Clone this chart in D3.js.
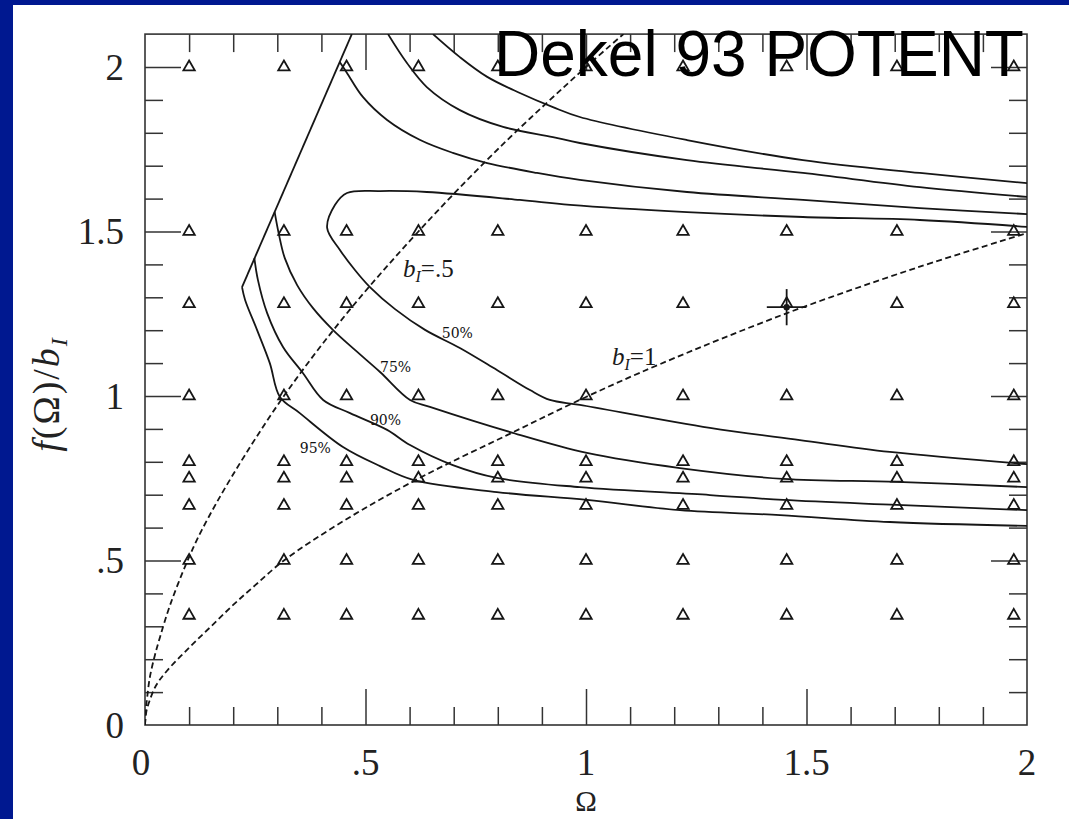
<!DOCTYPE html>
<html>
<head>
<meta charset="utf-8">
<script src="https://cdn.jsdelivr.net/npm/d3@7"></script>
<style>
  html, body { margin: 0; padding: 0; background: #ffffff; }
  svg { display: block; }
</style>
</head>
<body>
<script>
// Sampled models: Omega values and f(Omega)/b_I values of the grid
const omegaGrid = [0.1, 0.315, 0.457, 0.62, 0.8, 1.0, 1.22, 1.455, 1.705, 1.97];
const fbGrid = [2.0, 1.5, 1.28, 1.0, 0.8, 0.75, 0.667, 0.5, 0.333];

// Straight left boundary shared by the 75%, 90% and 95% contours, [Omega, f/b_I]
const envelope = [[0.469, 2.10], [0.220, 1.331]];

// Likelihood contours, [Omega, f/b_I]
const contour50 = [
  [2.0, 1.514], [1.757, 1.535], [1.492, 1.544], [1.229, 1.559], [0.964, 1.581],
  [0.850, 1.596], [0.639, 1.620], [0.533, 1.623], [0.458, 1.617], [0.431, 1.581],
  [0.413, 1.511], [0.442, 1.444], [0.476, 1.383], [0.510, 1.331], [0.567, 1.264],
  [0.635, 1.201], [0.714, 1.146], [0.798, 1.079], [0.873, 1.018], [0.918, 0.988],
  [0.986, 0.973], [1.281, 0.903], [1.485, 0.866], [1.689, 0.830], [2.0, 0.793]
];
const contour75Upper = [
  [2.0, 1.553], [1.757, 1.571], [1.492, 1.596], [1.229, 1.620], [0.986, 1.657],
  [0.889, 1.678], [0.776, 1.708], [0.698, 1.739], [0.624, 1.778], [0.549, 1.839],
  [0.494, 1.909], [0.458, 1.982], [0.4415, 2.015]
];
const contour75Lower = [
  [0.294, 1.559], [0.304, 1.489], [0.317, 1.419], [0.345, 1.337], [0.381, 1.267],
  [0.426, 1.201], [0.476, 1.140], [0.533, 1.073], [0.601, 0.988], [0.646, 0.967],
  [0.834, 0.888], [1.002, 0.827], [1.213, 0.781], [1.447, 0.748], [1.705, 0.739],
  [2.0, 0.723]
];
const contour90Upper = [
  [0.551, 2.10], [0.594, 2.012], [0.639, 1.939], [0.714, 1.869], [0.812, 1.818],
  [0.925, 1.787], [0.986, 1.769], [1.229, 1.717], [1.492, 1.678], [1.757, 1.635],
  [2.0, 1.605]
];
const contour90Lower = [
  [0.248, 1.419], [0.256, 1.353], [0.277, 1.252], [0.313, 1.149], [0.358, 1.070],
  [0.404, 0.988], [0.465, 0.948], [0.549, 0.897], [0.601, 0.851], [0.698, 0.790],
  [0.798, 0.751], [0.986, 0.723], [1.281, 0.699], [1.447, 0.684], [1.705, 0.669],
  [2.0, 0.653]
];
const contour95Upper = [
  [0.653, 2.10], [0.714, 2.030], [0.776, 1.970], [0.850, 1.921], [0.925, 1.878],
  [0.986, 1.848], [1.229, 1.778], [1.492, 1.717], [1.757, 1.678], [2.0, 1.647]
];
const contour95Lower = [
  [0.220, 1.331], [0.227, 1.292], [0.254, 1.201], [0.283, 1.100], [0.306, 0.997],
  [0.351, 0.948], [0.449, 0.845], [0.533, 0.787], [0.608, 0.745], [0.798, 0.708],
  [1.002, 0.684], [1.213, 0.653], [1.440, 0.638], [1.689, 0.617], [2.0, 0.605]
];
const contourNames = ["50%", "75%", "90%", "95%"];

// Lines of constant bias, [Omega, f/b_I]
const biasHalf = [
  [0, 0], [0.002, 0.048], [0.005, 0.085], [0.011, 0.145], [0.022, 0.21],
  [0.034, 0.267], [0.057, 0.365], [0.095, 0.495], [0.129, 0.593], [0.2, 0.762],
  [0.315, 1.0], [0.457, 1.25], [0.62, 1.5], [0.8, 1.75], [1.0, 2.0], [1.085, 2.1]
];
const biasOne = [
  [0, 0], [0.003, 0.04], [0.01, 0.072], [0.025, 0.12], [0.05, 0.165],
  [0.1, 0.235], [0.15, 0.3], [0.2, 0.365], [0.25, 0.425], [0.315, 0.5],
  [0.45, 0.62], [0.623, 0.751], [0.821, 0.881], [1.0, 0.997], [1.168, 1.097],
  [1.456, 1.252], [1.75, 1.39], [2.0, 1.495]
];
const biasNames = [".5", "1"];

// Best-fit point with its error bars
const bestFit = [1.455, 1.27];
const bestFitErr = [0.045, 0.055];

const xTickValues = [0, 0.5, 1, 1.5, 2];
const xTickLabels = ["0", ".5", "1", "1.5", "2"];
const yTickValues = [0, 0.5, 1, 1.5, 2];
const yTickLabels = ["0", ".5", "1", "1.5", "2"];

const titleText = "Dekel 93 POTENT";

// ---------------------------------------------------------------
const W = 1069, H = 819;
const svg = d3.select("body").append("svg").attr("width", W).attr("height", H);

svg.append("rect").attr("width", W).attr("height", H).attr("fill", "#001890");
svg.append("rect").attr("x", 13).attr("y", 5).attr("width", W - 13).attr("height", H - 5).attr("fill", "#ffffff");

const x = d3.scaleLinear().domain([0, 2]).range([145, 1027]);
const y = d3.scaleLinear().domain([0, 2.1]).range([725, 725 - 2.1 * 329]);
const [x0, x1] = x.range();
const [y0, y1] = y.range();

const ink = "#161616";
const serif = "'Liberation Serif', 'DejaVu Serif', serif";

svg.append("clipPath").attr("id", "frame-clip")
  .append("rect").attr("x", x0).attr("y", y1).attr("width", x1 - x0).attr("height", y0 - y1);

// Axes: minor ticks every 0.1, long ticks every 0.5, all pointing inward
const isHalf = v => Math.abs(v * 2 - Math.round(v * 2)) < 1e-6;
const minorX = d3.range(1, 20).map(i => i / 10).filter(v => !isHalf(v));
const majorX = [0.5, 1, 1.5];
const minorY = d3.range(1, 21).map(i => i / 10).filter(v => !isHalf(v));
const majorY = [0.5, 1, 1.5, 2];

function addAxis(gen, scale, vals, len, tx, ty) {
  const g = svg.append("g").attr("transform", `translate(${tx},${ty})`)
    .call(gen(scale).tickValues(vals).tickSizeInner(-len).tickSizeOuter(0).tickFormat(""));
  g.select(".domain").remove();
  g.selectAll(".tick line").attr("stroke", "#333").attr("stroke-width", 1.5);
}
addAxis(d3.axisBottom, x, minorX, 18, 0, y0);
addAxis(d3.axisBottom, x, majorX, 36, 0, y0);
addAxis(d3.axisTop, x, minorX, 18, 0, y1);
addAxis(d3.axisTop, x, majorX, 36, 0, y1);
addAxis(d3.axisLeft, y, minorY, 18, x0, 0);
addAxis(d3.axisLeft, y, majorY, 36, x0, 0);
addAxis(d3.axisRight, y, minorY, 18, x1, 0);
addAxis(d3.axisRight, y, majorY, 36, x1, 0);

// Frame
svg.append("rect").attr("x", x0).attr("y", y1).attr("width", x1 - x0).attr("height", y0 - y1)
  .attr("fill", "none").attr("stroke", "#333").attr("stroke-width", 1.6);

// Tick labels
svg.append("g").selectAll("text").data(xTickValues).join("text")
  .attr("x", d => x(d) - (d === 0 ? 4 : 0)).attr("y", 775)
  .attr("text-anchor", "middle").attr("font-family", serif).attr("font-size", 37)
  .attr("fill", "#222").text((d, i) => xTickLabels[i]);
svg.append("g").selectAll("text").data(yTickValues).join("text")
  .attr("x", 124).attr("y", d => y(d) + 12.5)
  .attr("text-anchor", "end").attr("font-family", serif).attr("font-size", 37)
  .attr("fill", "#222").text((d, i) => yTickLabels[i]);

// Axis titles
svg.append("text").attr("x", x(1)).attr("y", 811).attr("text-anchor", "middle")
  .attr("font-family", serif).attr("font-size", 29).attr("fill", "#222").text("Ω");

const yTitle = svg.append("text")
  .attr("transform", "translate(59,394) rotate(-90)")
  .attr("text-anchor", "middle").attr("font-family", serif).attr("font-size", 38)
  .attr("fill", "#222").attr("letter-spacing", 2);
yTitle.append("tspan").attr("font-style", "italic").text("f");
yTitle.append("tspan").text("(Ω)/");
yTitle.append("tspan").attr("font-style", "italic").text("b");
yTitle.append("tspan").attr("font-style", "italic").attr("font-size", 24).attr("dy", 8).text("I");

// Plot contents
const plot = svg.append("g").attr("clip-path", "url(#frame-clip)");

// Grid of sampled models
const sym = d3.symbol().type(d3.symbolTriangle).size(56);
const gridPts = fbGrid.flatMap(v => omegaGrid.map(o => [o, v]));
plot.append("g").selectAll("path").data(gridPts).join("path")
  .attr("d", sym).attr("transform", d => `translate(${x(d[0])},${y(d[1])})`)
  .attr("fill", "none").attr("stroke", ink).attr("stroke-width", 1.8);

const smooth = d3.line().x(d => x(d[0])).y(d => y(d[1])).curve(d3.curveCatmullRom.alpha(0.5));
const straight = d3.line().x(d => x(d[0])).y(d => y(d[1]));

// Constant-bias dashed curves
[biasHalf, biasOne].forEach(pts => {
  plot.append("path").attr("d", smooth(pts)).attr("fill", "none")
    .attr("stroke", ink).attr("stroke-width", 1.8).attr("stroke-dasharray", "6,3.5");
});

// Contours
plot.append("path").attr("d", straight(envelope)).attr("fill", "none")
  .attr("stroke", ink).attr("stroke-width", 1.8);
[contour50, contour75Upper, contour75Lower, contour90Upper, contour90Lower, contour95Upper, contour95Lower]
  .forEach(pts => {
    plot.append("path").attr("d", smooth(pts)).attr("fill", "none")
      .attr("stroke", ink).attr("stroke-width", 1.8).attr("stroke-linejoin", "round");
  });

// Contour labels
const contourLabelAt = [[0.673, 1.176], [0.533, 1.073], [0.510, 0.912], [0.351, 0.827]];
svg.append("g").selectAll("text").data(contourNames).join("text")
  .attr("x", (d, i) => x(contourLabelAt[i][0])).attr("y", (d, i) => y(contourLabelAt[i][1]))
  .attr("font-family", "'DejaVu Serif', serif").attr("font-size", 14)
  .attr("fill", "#111").text(d => d);

// Bias labels
const biasLabelAt = [[0.585, 1.362], [1.059, 1.094]];
biasNames.forEach((nm, i) => {
  const t = svg.append("text").attr("x", x(biasLabelAt[i][0])).attr("y", y(biasLabelAt[i][1]))
    .attr("font-family", serif).attr("font-size", 25).attr("fill", "#1a1a1a");
  t.append("tspan").attr("font-style", "italic").text("b");
  t.append("tspan").attr("font-style", "italic").attr("font-size", 16).attr("dy", 5).text("I");
  t.append("tspan").attr("dy", -5).text("=" + nm);
});

// Best-fit cross
const bf = svg.append("g");
bf.append("line").attr("x1", x(bestFit[0] - bestFitErr[0])).attr("x2", x(bestFit[0] + bestFitErr[0]))
  .attr("y1", y(bestFit[1])).attr("y2", y(bestFit[1])).attr("stroke", ink).attr("stroke-width", 1.8);
bf.append("line").attr("x1", x(bestFit[0])).attr("x2", x(bestFit[0]))
  .attr("y1", y(bestFit[1] - bestFitErr[1])).attr("y2", y(bestFit[1] + bestFitErr[1]))
  .attr("stroke", ink).attr("stroke-width", 1.8);
bf.append("circle").attr("cx", x(bestFit[0])).attr("cy", y(bestFit[1])).attr("r", 3.2).attr("fill", ink);

// Title
svg.append("text").attr("x", 494).attr("y", 76)
  .attr("font-family", "'Liberation Sans', Arial, sans-serif").attr("font-size", 64)
  .attr("fill", "#000").text(titleText);
</script>
</body>
</html>
